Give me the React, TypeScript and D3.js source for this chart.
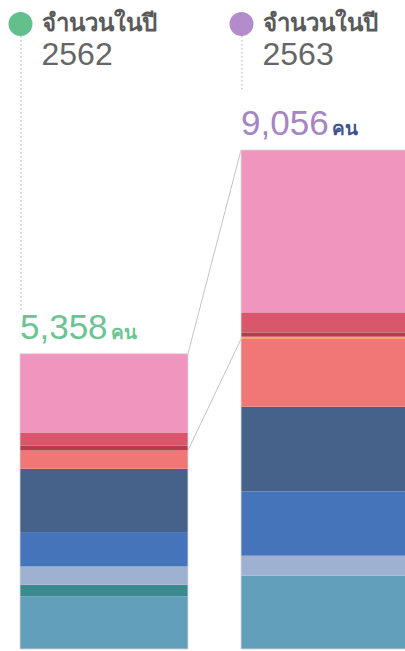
import React from 'react';
import * as d3 from 'd3';

const years = ['2562', '2563'];
const totals = [5358, 9056];
const headerLabel = 'จำนวนในปี';
const unitLabel = 'คน';

// stack order bottom -> top
const keys = ['teal', 'darkTeal', 'grayBlue', 'blue', 'navy', 'salmon', 'orange', 'darkRed', 'red', 'pink'];
const colors = ['#619fbb', '#3a8a8f', '#9fb1d1', '#4574ba', '#46628b', '#f07775', '#f2a86e', '#b63c4c', '#d9566b', '#f095bd'];
const values2562 = [954, 212, 332, 624, 1149, 332, 0, 91, 236, 1428];
const values2563 = [1330, 0, 363, 1167, 1537, 1229, 42, 78, 363, 2947];

const dotColors = ['#63c08d', '#b28ccb'];
const totalColors = ['#6cc394', '#a585c4'];
const unitColors = ['#6cc394', '#3f528f'];

const W = 405;
const H = 651;

const App = () => {
  const rows = years.map((y, i) => {
    const src = i === 0 ? values2562 : values2563;
    const row: any = { year: y };
    keys.forEach((k, j) => (row[k] = src[j]));
    return row;
  });

  const series = d3.stack().keys(keys)(rows);

  const x = d3.scaleBand().domain(years).range([20, 409]).paddingInner(0.24);
  const y = d3.scaleLinear().domain([0, d3.max(totals)]).range([649, 150]);

  const fmt = d3.format(',');
  const salmonIdx = keys.indexOf('salmon');

  const x0 = x(years[0]) + x.bandwidth();
  const x1 = x(years[1]);

  return (
    <svg
      width={W}
      height={H}
      style={{ position: 'absolute', left: 0, top: 0, background: '#fff' }}
      fontFamily="'Liberation Sans', 'Noto Sans', sans-serif"
    >
      {/* connectors */}
      <line x1={x0} y1={y(totals[0])} x2={x1} y2={y(totals[1])} stroke="#c4c4c4" strokeWidth={1} />
      <line
        x1={x0}
        y1={y(series[salmonIdx][0][1])}
        x2={x1}
        y2={y(series[salmonIdx][1][1])}
        stroke="#c4c4c4"
        strokeWidth={1}
      />

      {/* dotted leaders */}
      <line x1={21} y1={36} x2={21} y2={310} stroke="#aaa" strokeDasharray="1.5,2.5" />
      <line x1={242} y1={36} x2={242} y2={90} stroke="#aaa" strokeDasharray="1.5,2.5" />

      {/* stacked bars */}
      {series.map((s, i) => (
        <g key={keys[i]} fill={colors[i]}>
          {s.map((d, j) => (
            <rect
              key={j}
              x={x(years[j])}
              y={y(d[1])}
              width={x.bandwidth()}
              height={Math.max(0, y(d[0]) - y(d[1]))}
            />
          ))}
        </g>
      ))}
      {years.map((yr, j) => (
        <rect
          key={'o' + yr}
          x={x(yr)}
          y={y(totals[j])}
          width={x.bandwidth()}
          height={y(0) - y(totals[j])}
          fill="none"
          stroke="#d8d8d8"
          strokeWidth={0.8}
        />
      ))}

      {/* headers */}
      {years.map((yr, j) => {
        const cx = j === 0 ? 20.5 : 241.5;
        return (
          <g key={'h' + yr}>
            <circle cx={cx} cy={24} r={12} fill={dotColors[j]} />
            <text x={cx + 21} y={31} fontSize={24} fontWeight="bold" fill="#5a5a5a">
              {headerLabel}
            </text>
            <text x={cx + 21} y={65} fontSize={32} fill="#666">
              {yr}
            </text>
          </g>
        );
      })}

      {/* totals */}
      {years.map((yr, j) => {
        const tx = x(yr);
        const ty = y(totals[j]) - 15;
        return (
          <text key={'t' + yr} x={tx} y={ty} fontSize={35}>
            <tspan fill={totalColors[j]}>{fmt(totals[j])}</tspan>
            <tspan fill={unitColors[j]} fontSize={19} fontWeight="bold" dx={3}>
              {unitLabel}
            </tspan>
          </text>
        );
      })}
    </svg>
  );
};

export default App;
